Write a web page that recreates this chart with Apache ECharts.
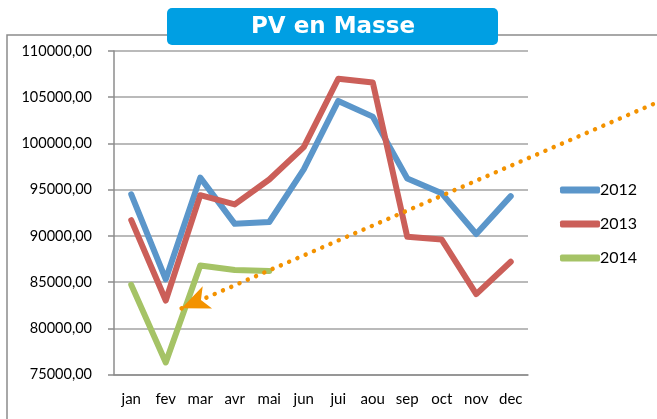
<!DOCTYPE html>
<html>
<head>
<meta charset="utf-8">
<script src="https://cdn.jsdelivr.net/npm/echarts@6/dist/echarts.min.js"></script>
<style>
html, body { margin: 0; padding: 0; background: #fff; }
#main { width: 657px; height: 419px; }
</style>
</head>
<body>
<div id="main"></div>
<script>
var months = ['jan', 'fev', 'mar', 'avr', 'mai', 'jun', 'jui', 'aou', 'sep', 'oct', 'nov', 'dec'];
var pv2012 = [94500, 85300, 96300, 91300, 91500, 97200, 104600, 102900, 96200, 94600, 90200, 94300];
var pv2013 = [91700, 83000, 94400, 93400, 96100, 99600, 107000, 106600, 89900, 89600, 83700, 87200];
var pv2014 = [84700, 76300, 86800, 86300, 86200];
// fleche en pointilles : [index du mois, valeur]
var arrowStart = [1.46, 82160];
var arrowEnd = [15.2, 104370];

var chart = echarts.init(document.getElementById('main'));
var font = 'Lato, "Open Sans", sans-serif';

var option = {
  animation: false,
  color: ['#5B96CA', '#CB5F59', '#A5C366'],
  textStyle: { fontFamily: font },
  graphic: [
    {
      type: 'rect',
      z: 0,
      shape: { x: 7, y: 35, width: 700, height: 500 },
      style: { fill: 'none', stroke: '#8c8c8c', lineWidth: 1.5 }
    },
    {
      type: 'group',
      z: 10,
      children: [
        {
          type: 'rect',
          shape: { x: 167, y: 8, width: 331, height: 37, r: 5 },
          style: { fill: '#009FE3' }
        },
        {
          type: 'text',
          x: 333,
          y: 27,
          style: {
            text: 'PV en Masse',
            fill: '#fff',
            font: 'bold 23px "DejaVu Sans", sans-serif',
            align: 'center',
            verticalAlign: 'middle'
          }
        }
      ]
    }
  ],
  legend: {
    orient: 'vertical',
    left: 555,
    top: 177,
    itemWidth: 40,
    itemHeight: 7,
    itemGap: 18,
    icon: 'roundRect',
    data: ['2012', '2013', '2014'],
    textStyle: { fontSize: 16, color: '#000', padding: [0, 0, 0, -5] }
  },
  grid: [
    { left: 114, right: 129, top: 51, bottom: 44.5 },
    // meme echelle, prolongee jusqu'au bord droit pour la fleche
    { left: 114, right: 0, top: 51, bottom: 44.5, show: false }
  ],
  xAxis: [
    {
      type: 'category',
      gridIndex: 0,
      data: months,
      boundaryGap: true,
      axisLine: { lineStyle: { color: '#8c8c8c', width: 1.5 } },
      axisTick: { length: 5, lineStyle: { color: '#8c8c8c', width: 1.5 } },
      axisLabel: { fontSize: 15, color: '#000', margin: 17, interval: 0 }
    },
    {
      type: 'value',
      gridIndex: 1,
      min: -0.5,
      max: 15.24,
      show: false
    }
  ],
  yAxis: [
    {
      type: 'value',
      gridIndex: 0,
      min: 75000,
      max: 110000,
      interval: 5000,
      axisLine: { show: true, lineStyle: { color: '#8c8c8c', width: 1.5 } },
      axisTick: { show: true, length: 6, lineStyle: { color: '#8c8c8c', width: 1.5 } },
      splitLine: { lineStyle: { color: '#a3a3a3', width: 1.5 } },
      axisLabel: {
        fontSize: 14.5,
        color: '#000',
        margin: 22,
        formatter: function (v) { return v.toFixed(2).replace('.', ','); }
      }
    },
    {
      type: 'value',
      gridIndex: 1,
      min: 75000,
      max: 110000,
      show: false
    }
  ],
  series: [
    {
      name: '2012', type: 'line', data: pv2012, showSymbol: false, symbol: 'none',
      lineStyle: { width: 6, cap: 'round', join: 'round' }
    },
    {
      name: '2013', type: 'line', data: pv2013, showSymbol: false, symbol: 'none',
      lineStyle: { width: 6, cap: 'round', join: 'round' }
    },
    {
      name: '2014', type: 'line', data: pv2014, showSymbol: false, symbol: 'none',
      lineStyle: { width: 6, cap: 'round', join: 'round' }
    },
    {
      name: 'tendance',
      type: 'line',
      xAxisIndex: 1,
      yAxisIndex: 1,
      data: [arrowStart, arrowEnd],
      clip: false,
      z: 5,
      silent: true,
      showSymbol: true,
      symbol: function (val, params) { return params.dataIndex === 0 ? 'arrow' : 'none'; },
      symbolSize: [18, 28],
      symbolRotate: 113,
      itemStyle: { color: '#F39200' },
      lineStyle: { color: '#F39200', width: 4.5, type: [0.01, 9], cap: 'round' }
    }
  ]
};

chart.setOption(option);
</script>
</body>
</html>
